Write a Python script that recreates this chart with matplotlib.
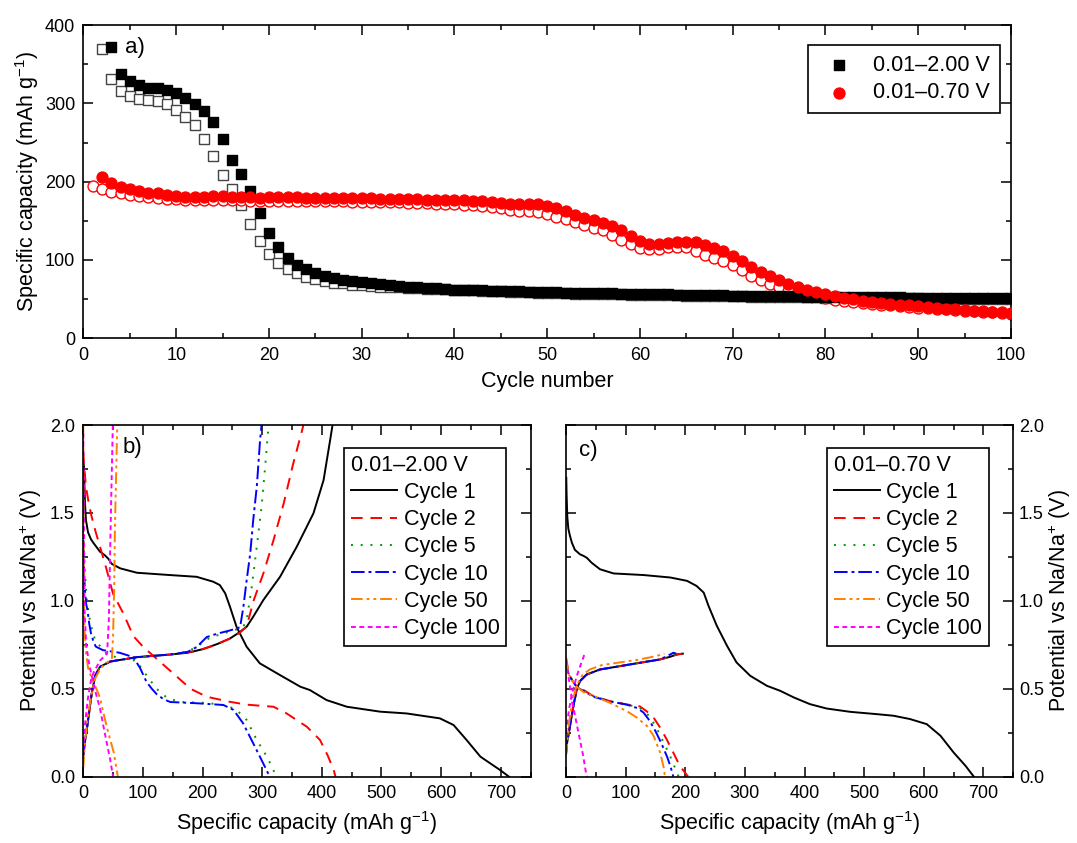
import matplotlib
matplotlib.use("Agg")
import matplotlib.pyplot as plt
from matplotlib.ticker import MultipleLocator

plt.rcParams["font.family"] = ["Liberation Sans", "DejaVu Sans"]
plt.rcParams["mathtext.fontset"] = "custom"
plt.rcParams["mathtext.rm"] = "Liberation Sans"
plt.rcParams["mathtext.it"] = "Liberation Sans:italic"

# ---------------- panel a: capacity vs cycle ----------------
cycles = list(range(1, 101))

# 0.01-2.00 V, filled = discharge, open = charge
hi_dis = [720, 420, 372, 337, 328, 323, 320, 319, 317, 313,
          307, 299, 290, 276, 254, 228, 210, 188, 160, 135,
          116, 103, 93, 88, 83.5, 80, 77, 75, 73, 71.5,
          70.3, 69.4, 68, 67, 66, 65.6, 64.8, 64, 63, 62.2,
          62, 61.7, 61.4, 61, 60.7, 60.4, 60, 59.5, 59, 58.7,
          58.5, 58.3, 58, 57.8, 57.6, 57.4, 57.2, 57, 56.8, 56.5,
          56.3, 56.1, 56, 55.8, 55.6, 55.4, 55.2, 55, 54.8, 54.6,
          54.5, 54.3, 54.1, 54, 53.8, 53.6, 53.5, 53.3, 53.2, 53,
          52.9, 52.8, 52.6, 52.5, 52.4, 52.3, 52.2, 52.1, 52, 51.9,
          51.8, 51.7, 51.6, 51.5, 51.4, 51.3, 51.2, 51.1, 51, 51]
hi_chg = [410, 369, 331, 316, 309, 306, 304, 303, 299, 292,
          283, 272, 255, 233, 208, 190, 170, 146, 124, 107,
          96, 88, 83, 78, 75.4, 73, 71, 70, 68.5, 67.5,
          66.5, 66, 65.5, 65, 64.5, 64, 63.5, 63, 62.5, 62,
          61.5, 61.2, 60.8, 60.4, 60, 59.6, 59.2, 58.8, 58.4, 58,
          57.7, 57.4, 57.1, 56.8, 56.6, 56.4, 56.2, 56, 55.8, 55.6,
          55.4, 55.2, 55, 54.8, 54.6, 54.4, 54.2, 54, 53.8, 53.6,
          53.4, 53.2, 53, 52.8, 52.6, 52.5, 52.4, 52.3, 52.1, 52,
          51.9, 51.8, 51.6, 51.5, 51.4, 51.3, 51.2, 51.1, 51, 50.9,
          50.8, 50.7, 50.6, 50.5, 50.4, 50.3, 50.2, 50.1, 50, 50]

# 0.01-0.70 V
lo_dis = [685, 206, 198.5, 193, 190, 188, 186, 185, 183.5, 182,
          181, 181, 181, 181.5, 182, 181, 180.5, 180.5, 179.5, 180,
          180, 180, 180, 179.5, 179.5, 179.5, 179, 179, 179, 179,
          178.8, 178.5, 178.2, 178, 177.6, 177.3, 177, 176.7, 176.3, 176,
          176, 175.5, 175, 174, 173, 172, 172, 172, 171, 169,
          166, 162, 158, 154, 151, 147, 144, 138, 130, 124,
          121, 120, 122, 123, 123, 123, 119, 115, 112, 105,
          99, 91, 85, 79, 75, 69, 66, 62, 59, 57,
          54, 52, 50, 48, 46.5, 45, 44, 43, 42, 41,
          40, 39, 38, 37, 36, 35.2, 34.5, 33.8, 33, 32]
lo_chg = [195, 190, 187, 185, 182.7, 181.5, 180, 179, 178.5, 177.5,
          176.5, 176, 176, 176, 176, 176, 176, 175.8, 175.6, 175.5,
          175.5, 175.4, 175.3, 175.2, 175, 175, 175, 174.8, 174.6, 174.5,
          174.2, 174, 173.7, 173.4, 173, 172.7, 172.3, 172, 171.5, 171,
          170.5, 170, 169, 168, 167, 164, 163, 163, 161, 159,
          155, 152, 149, 145, 141, 138, 132, 126, 120, 115,
          114, 114, 116, 116, 116, 111, 106, 103, 99, 93,
          87, 79, 74, 69, 65, 61, 59, 56, 54, 51,
          49.5, 48, 46.5, 45, 44, 43, 42, 41, 40, 39.2,
          38.4, 37.6, 36.8, 36, 35.2, 34.5, 33.8, 33, 32.3, 31.5]

# ---------------- panel b: 0.01-2.00 V profiles (capacity, potential) ----------------
b_c1_dis = [(1, 1.78), (2, 1.66), (3, 1.55), (4.5, 1.46), (8, 1.39), (13, 1.35), (17, 1.33),
            (28, 1.28), (36, 1.26), (42, 1.24), (48, 1.21), (62, 1.185), (90, 1.16), (145, 1.147),
            (190, 1.137), (218, 1.109), (229, 1.09), (238, 1.043), (246, 0.967), (257, 0.853),
            (274, 0.739), (296, 0.645), (330, 0.578), (364, 0.512), (380, 0.493), (408, 0.436),
            (442, 0.398), (498, 0.37), (542, 0.36), (598, 0.332), (621, 0.294), (643, 0.208),
            (666, 0.114), (699, 0.038), (714, 0.0)]
b_c1_chg = [(0, 0.15), (3, 0.2), (8, 0.32), (14, 0.47), (20, 0.575), (28, 0.625), (45, 0.655),
            (90, 0.68), (146, 0.695), (175, 0.705), (200, 0.725), (225, 0.755), (246, 0.786),
            (263, 0.824), (274, 0.853), (285, 0.91), (302, 1.005), (330, 1.137), (358, 1.308),
            (386, 1.498), (403, 1.687), (414, 1.915), (418, 2.0)]
b_c2_dis = [(0, 1.85), (2, 1.75), (4.5, 1.65), (9, 1.56), (14, 1.48), (21, 1.39), (28, 1.31),
            (39, 1.18), (50, 1.04), (67, 0.93), (84, 0.8), (100, 0.74), (120, 0.68), (140, 0.62),
            (160, 0.56), (180, 0.5), (207, 0.455), (246, 0.426), (274, 0.41), (300, 0.403),
            (319, 0.398), (341, 0.36), (375, 0.284), (397, 0.209), (410, 0.12), (420, 0.038),
            (423, 0.0)]
b_c2_chg = [(0, 0.12), (3, 0.2), (8, 0.32), (14, 0.47), (20, 0.575), (28, 0.625), (45, 0.655),
            (90, 0.68), (146, 0.695), (190, 0.715), (218, 0.745), (246, 0.786), (263, 0.82),
            (274, 0.855), (286, 1.005), (302, 1.156), (319, 1.345), (336, 1.553), (352, 1.78),
            (367, 1.97), (369, 2.0)]
b_c5_dis = [(0, 1.4), (1.5, 1.25), (3, 1.15), (6, 1.0), (12, 0.87), (20, 0.776), (39, 0.7),
            (61, 0.672), (89, 0.66), (101, 0.6), (112, 0.55), (123, 0.5), (140, 0.45),
            (162, 0.425), (207, 0.42), (240, 0.405), (257, 0.38), (274, 0.323), (291, 0.209),
            (308, 0.114), (319, 0.038), (322, 0.0)]
b_c5_chg = [(0, 0.12), (3, 0.2), (8, 0.32), (14, 0.47), (20, 0.575), (28, 0.625), (45, 0.655),
            (90, 0.68), (146, 0.695), (175, 0.71), (195, 0.75), (212, 0.79), (230, 0.81),
            (250, 0.83), (268, 0.85), (274, 0.891), (282.5, 1.08), (291, 1.308), (299, 1.535),
            (305, 1.763), (310, 1.97), (311, 2.0)]
b_c10_dis = [(0, 1.3), (1.5, 1.15), (3, 1.05), (5, 0.98), (7, 0.95), (10, 0.87), (13, 0.815),
             (17, 0.77), (21, 0.74), (33, 0.72), (61, 0.705), (84, 0.68), (95, 0.62), (106, 0.54),
             (115, 0.5), (123, 0.47), (135, 0.44), (146, 0.425), (190, 0.418), (235, 0.408),
             (252, 0.38), (268, 0.304), (285, 0.19), (299, 0.095), (310, 0.019), (313, 0.0)]
b_c10_chg = [(0, 0.12), (3, 0.2), (8, 0.32), (14, 0.47), (20, 0.575), (28, 0.625), (45, 0.655),
             (90, 0.68), (146, 0.695), (175, 0.71), (190, 0.737), (207, 0.794), (224, 0.813),
             (246, 0.832), (263, 0.85), (268.5, 0.966), (274, 1.118), (280, 1.27), (285, 1.46),
             (291, 1.65), (296.5, 1.915), (299, 2.0)]
b_c50_dis = [(0, 2.0), (0.5, 1.5), (1, 1.1), (2, 0.85), (4, 0.72), (8, 0.62), (15, 0.55),
             (22, 0.5), (28, 0.45), (34, 0.36), (42, 0.25), (51, 0.14), (55, 0.06), (58, 0.0)]
b_c50_chg = [(0, 0.05), (3, 0.2), (8, 0.35), (14, 0.47), (20, 0.56), (30, 0.62), (40, 0.65),
             (48, 0.67), (50, 0.8), (52, 1.1), (53, 1.4), (55, 1.7), (57, 2.0)]
b_c100_dis = [(0, 1.95), (1, 1.5), (2, 0.95), (5, 0.75), (10, 0.64), (17, 0.53), (23, 0.45),
              (28, 0.39), (36, 0.25), (45, 0.1), (50, 0.0)]
b_c100_chg = [(0, 0.15), (3, 0.3), (8, 0.45), (13, 0.55), (17, 0.59), (28, 0.66), (40, 0.7),
              (43, 0.9), (45, 1.27), (47, 1.6), (49.6, 2.0)]

# ---------------- panel c: 0.01-0.70 V profiles ----------------
c_c1_dis = [(0.5, 1.7), (1.1, 1.6), (2.2, 1.48), (4, 1.41), (6.7, 1.37), (10, 1.33), (15, 1.29),
            (23.5, 1.265), (30, 1.255), (35, 1.245), (43, 1.217), (57, 1.18), (80, 1.156),
            (130, 1.147), (175, 1.133), (203, 1.114), (219, 1.085), (231, 1.047), (239, 0.972),
            (253, 0.858), (270, 0.745), (286, 0.65), (309, 0.574), (337, 0.517), (359, 0.489),
            (382, 0.451), (409, 0.413), (437, 0.388), (477, 0.369), (521, 0.356), (549, 0.347),
            (577, 0.328), (605, 0.299), (628, 0.233), (650, 0.138), (670, 0.062), (684, 0.0)]
c_c1_chg = [(0, 0.13), (1.1, 0.177), (6.7, 0.288), (12.3, 0.4), (18, 0.496), (23.5, 0.544),
            (34.6, 0.581), (57, 0.61), (90.6, 0.629), (124, 0.648), (157.7, 0.667),
            (174.5, 0.682), (185.7, 0.695), (196, 0.7)]
c_c2_dis = [(0, 0.68), (3, 0.62), (6.7, 0.572), (12, 0.54), (18, 0.515), (23.5, 0.506),
            (46, 0.458), (74, 0.43), (102, 0.411), (124, 0.4), (135, 0.373), (147, 0.336),
            (158, 0.279), (169, 0.212), (180, 0.137), (191, 0.061), (205, 0.0)]
c_c2_chg = [(0, 0.12), (1.1, 0.177), (6.7, 0.288), (12.3, 0.4), (18, 0.496), (23.5, 0.544),
            (34.6, 0.581), (57, 0.61), (90.6, 0.629), (124, 0.648), (157.7, 0.667),
            (174.5, 0.682), (185.7, 0.695), (195, 0.7)]
c_c5_dis = [(0, 0.67), (3, 0.61), (7, 0.57), (18, 0.515), (46, 0.458), (74, 0.43), (102, 0.41),
            (122, 0.395), (133, 0.37), (143, 0.33), (153, 0.27), (163, 0.2), (173, 0.13),
            (183, 0.05), (189, 0.0)]
c_c5_chg = [(0, 0.12), (1.1, 0.177), (6.7, 0.288), (12.3, 0.4), (18, 0.496), (23.5, 0.544),
            (34.6, 0.581), (57, 0.61), (90.6, 0.629), (124, 0.648), (157.7, 0.667),
            (174.5, 0.685), (185, 0.7), (192, 0.7)]
c_c10_dis = [(0, 0.66), (3, 0.6), (7, 0.565), (18, 0.51), (46, 0.455), (74, 0.428), (102, 0.41),
             (120, 0.39), (130, 0.365), (140, 0.32), (150, 0.26), (160, 0.19), (170, 0.11),
             (176, 0.05), (180, 0.0)]
c_c10_chg = [(0, 0.12), (1.1, 0.177), (6.7, 0.288), (12.3, 0.4), (18, 0.496), (23.5, 0.544),
             (34.6, 0.581), (57, 0.61), (90.6, 0.629), (124, 0.648), (157.7, 0.667),
             (172, 0.69), (180, 0.705), (185, 0.7)]
c_c50_dis = [(0, 0.67), (5, 0.58), (15, 0.52), (30, 0.48), (50, 0.455), (74, 0.42), (102, 0.373),
             (119, 0.336), (136, 0.288), (147, 0.232), (158, 0.137), (164, 0.05), (166, 0.0)]
c_c50_chg = [(0, 0.12), (5, 0.3), (10, 0.42), (18, 0.52), (28, 0.58), (40, 0.61), (60, 0.635),
             (90, 0.65), (120, 0.665), (150, 0.685), (165, 0.7)]
c_c100_dis = [(0, 0.66), (5, 0.55), (12, 0.4), (21, 0.25), (29, 0.117), (34, 0.013), (35, 0.0)]
c_c100_chg = [(0, 0.25), (5, 0.38), (10, 0.47), (18, 0.572), (25, 0.64), (32, 0.705)]

cycle_labels = ["Cycle 1", "Cycle 2", "Cycle 5", "Cycle 10", "Cycle 50", "Cycle 100"]
cycle_colors = ["black", "#ff0000", "#009900", "#0000ff", "#ff8000", "#ff00ff"]
cycle_styles = ["-", (0, (6, 4)), (0, (1, 4)), (0, (7, 2, 1.5, 2)),
                (0, (6, 2, 1.5, 2, 1.5, 2)), (0, (2.5, 1.8))]

fig = plt.figure(figsize=(10.77, 8.43), dpi=100)
ax_a = fig.add_axes([0.0775, 0.5987, 0.8612, 0.3716])
ax_b = fig.add_axes([0.0773, 0.0786, 0.4153, 0.4172])
ax_c = fig.add_axes([0.5255, 0.0786, 0.4153, 0.4172])


def style_axis(ax):
    ax.tick_params(which="both", direction="in", top=True, right=True, labelsize=13,
                   width=1.1, pad=6)
    ax.tick_params(which="major", length=7)
    ax.tick_params(which="minor", length=3.5)
    for s in ax.spines.values():
        s.set_linewidth(1.2)


# panel a
ax_a.scatter(cycles, hi_chg, marker="s", s=48, facecolors="white", edgecolors="#444444",
             linewidths=1.0, zorder=2)
ax_a.scatter(cycles, hi_dis, marker="s", s=48, color="black", zorder=3,
             label="0.01\u20132.00 V")
ax_a.scatter(cycles, lo_chg, marker="o", s=62, facecolors="white", edgecolors="#ff0000",
             linewidths=1.0, zorder=2)
ax_a.scatter(cycles, lo_dis, marker="o", s=62, color="#ff0000", zorder=3,
             label="0.01\u20130.70 V")
ax_a.set_xlim(0, 100)
ax_a.set_ylim(0, 400)
ax_a.xaxis.set_major_locator(MultipleLocator(10))
ax_a.xaxis.set_minor_locator(MultipleLocator(5))
ax_a.yaxis.set_major_locator(MultipleLocator(100))
ax_a.yaxis.set_minor_locator(MultipleLocator(50))
style_axis(ax_a)
ax_a.set_xlabel("Cycle number", fontsize=15.5, labelpad=5)
ax_a.set_ylabel("Specific capacity (mAh g$^{-1}$)", fontsize=15.5, labelpad=3)
ax_a.text(0.055, 0.927, "a)", transform=ax_a.transAxes, fontsize=16,
          ha="center", va="center")
leg_a = ax_a.legend(loc="upper right", bbox_to_anchor=(0.988, 0.936), borderaxespad=0,
                    fontsize=15.5, frameon=True, fancybox=False, edgecolor="black",
                    handletextpad=0.6, labelspacing=0.3, borderpad=0.45, scatterpoints=1)
leg_a.get_frame().set_linewidth(1.2)
leg_a.get_frame().set_alpha(1)

# panels b and c
b_curves = [(b_c1_dis, b_c1_chg), (b_c2_dis, b_c2_chg), (b_c5_dis, b_c5_chg),
            (b_c10_dis, b_c10_chg), (b_c50_dis, b_c50_chg), (b_c100_dis, b_c100_chg)]
c_curves = [(c_c1_dis, c_c1_chg), (c_c2_dis, c_c2_chg), (c_c5_dis, c_c5_chg),
            (c_c10_dis, c_c10_chg), (c_c50_dis, c_c50_chg), (c_c100_dis, c_c100_chg)]

for ax, curves, title, tag in [(ax_b, b_curves, "0.01\u20132.00 V", "b)"),
                               (ax_c, c_curves, "0.01\u20130.70 V", "c)")]:
    for (dis, chg), lab, col, ls in zip(curves, cycle_labels, cycle_colors, cycle_styles):
        ax.plot([p[0] for p in dis], [p[1] for p in dis], color=col, linestyle=ls,
                linewidth=1.4, label=lab)
        ax.plot([p[0] for p in chg], [p[1] for p in chg], color=col, linestyle=ls,
                linewidth=1.4)
    ax.set_xlim(0, 750)
    ax.set_ylim(0, 2.0)
    ax.xaxis.set_major_locator(MultipleLocator(100))
    ax.xaxis.set_minor_locator(MultipleLocator(50))
    ax.yaxis.set_major_locator(MultipleLocator(0.5))
    ax.yaxis.set_minor_locator(MultipleLocator(0.25))
    style_axis(ax)
    ax.set_xlabel("Specific capacity (mAh g$^{-1}$)", fontsize=15.5, labelpad=5)
    leg = ax.legend(loc="upper right", bbox_to_anchor=(0.945, 0.934), borderaxespad=0,
                    fontsize=15.5, title=title, title_fontsize=15.5, alignment="left",
                    frameon=True, fancybox=False, edgecolor="black", handlelength=2.15,
                    handletextpad=0.3, labelspacing=0.29, borderpad=0.3)
    leg.get_frame().set_linewidth(1.2)
    leg.get_frame().set_alpha(1)

ax_b.text(0.11, 0.936, "b)", transform=ax_b.transAxes, fontsize=16, ha="center", va="center")
ax_c.text(0.051, 0.927, "c)", transform=ax_c.transAxes, fontsize=16, ha="center", va="center")
ax_b.yaxis.set_major_formatter(matplotlib.ticker.FormatStrFormatter("%.1f"))
ax_c.yaxis.set_major_formatter(matplotlib.ticker.FormatStrFormatter("%.1f"))
ax_b.set_ylabel("Potential vs Na/Na$^{+}$ (V)", fontsize=15.5, labelpad=4)
ax_c.tick_params(axis="y", labelleft=False, labelright=True, pad=4)
ax_c.yaxis.set_label_position("right")
ax_c.set_ylabel("Potential vs Na/Na$^{+}$ (V)", fontsize=15.5, labelpad=2)

fig.savefig("out.png", dpi=100)
